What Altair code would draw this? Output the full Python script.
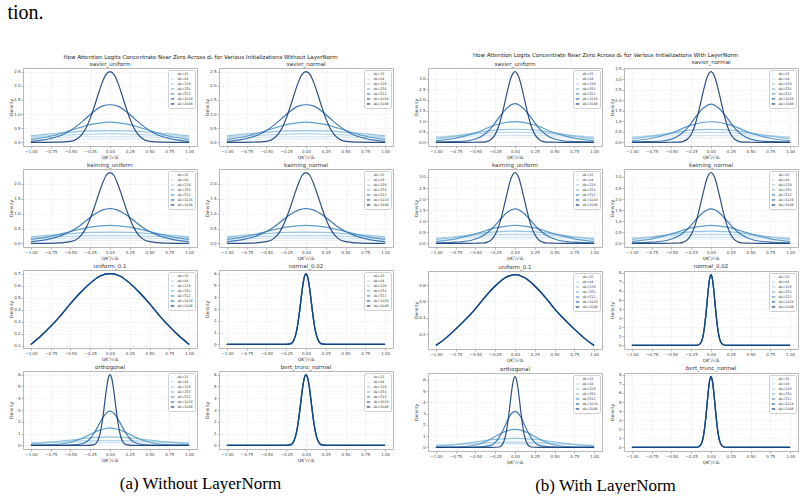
import altair as alt
import pandas as pd

FONT = "DejaVu Sans"
DKS = [32, 64, 128, 256, 512, 1024, 2048]
DK_LABELS = ["dk=32", "dk=64", "dk=128", "dk=256", "dk=512", "dk=1024", "dk=2048"]
COLORS = ["#e4eef9", "#cde0f1", "#b0d1e8", "#86bcdc", "#4f94c7", "#2b6cad", "#153d75"]

X_TICKS = [-1.0, -0.75, -0.5, -0.25, 0.0, 0.25, 0.5, 0.75, 1.0]

# x grids for the curves
X9 = [-1.0, -0.75, -0.5, -0.25, 0.0, 0.25, 0.5, 0.75, 1.0]
X17 = [-1.0, -0.875, -0.75, -0.625, -0.5, -0.375, -0.25, -0.125, 0.0,
       0.125, 0.25, 0.375, 0.5, 0.625, 0.75, 0.875, 1.0]
X_MID = [-1.0, -0.8, -0.6, -0.5, -0.4, -0.3, -0.2, -0.1, 0.0,
         0.1, 0.2, 0.3, 0.4, 0.5, 0.6, 0.8, 1.0]
X_FINE = [-1.0, -0.7, -0.5, -0.4, -0.35, -0.3, -0.25, -0.2, -0.15, -0.1, -0.05, 0.0,
          0.05, 0.1, 0.15, 0.2, 0.25, 0.3, 0.35, 0.4, 0.5, 0.7, 1.0]
X_ORTH = [-1.0, -0.7, -0.5, -0.4, -0.3, -0.25, -0.2, -0.16, -0.12, -0.08, -0.04, 0.0,
          0.04, 0.08, 0.12, 0.16, 0.2, 0.25, 0.3, 0.4, 0.5, 0.7, 1.0]
X_SPIKE = [-1.0, -0.3, -0.2, -0.16, -0.12, -0.1, -0.08, -0.06, -0.04, -0.02, 0.0,
           0.02, 0.04, 0.06, 0.08, 0.1, 0.12, 0.16, 0.2, 0.3, 1.0]

# ---------------- Without LayerNorm ----------------
LX_32 = [0.10, 0.10, 0.11, 0.11, 0.11, 0.11, 0.11, 0.10, 0.10]
LX_64 = [0.17, 0.18, 0.19, 0.20, 0.20, 0.20, 0.19, 0.18, 0.17]
LX_128 = [0.20, 0.24, 0.27, 0.29, 0.30, 0.29, 0.27, 0.24, 0.20]
LX_256 = [0.23, 0.30, 0.36, 0.41, 0.42, 0.41, 0.36, 0.30, 0.23]
LX_512 = [0.11, 0.22, 0.42, 0.63, 0.72, 0.63, 0.42, 0.22, 0.11]
LX_1024 = [0.04, 0.11, 0.27, 0.42, 0.62, 0.86, 1.10, 1.28, 1.33, 1.28, 1.10, 0.86, 0.62, 0.42, 0.27, 0.11, 0.04]
LX_2048 = [0.0, 0.01, 0.04, 0.16, 0.30, 0.53, 0.85, 1.25, 1.69, 2.10, 2.40, 2.50,
           2.40, 2.10, 1.69, 1.25, 0.85, 0.53, 0.30, 0.16, 0.04, 0.01, 0.0]

LK_32 = [0.09, 0.10, 0.10, 0.10, 0.10, 0.10, 0.10, 0.10, 0.09]
LK_64 = [0.15, 0.16, 0.17, 0.18, 0.18, 0.18, 0.17, 0.16, 0.15]
LK_128 = [0.19, 0.22, 0.24, 0.26, 0.26, 0.26, 0.24, 0.22, 0.19]
LK_256 = [0.22, 0.28, 0.33, 0.37, 0.38, 0.37, 0.33, 0.28, 0.22]
LK_512 = [0.14, 0.24, 0.40, 0.55, 0.61, 0.55, 0.40, 0.24, 0.14]
LK_1024 = [0.06, 0.13, 0.28, 0.40, 0.56, 0.77, 0.97, 1.12, 1.17, 1.12, 0.97, 0.77, 0.56, 0.40, 0.28, 0.13, 0.06]
LK_2048 = [0.0, 0.01, 0.06, 0.18, 0.32, 0.54, 0.84, 1.20, 1.60, 1.98, 2.28, 2.38,
           2.28, 1.98, 1.60, 1.20, 0.84, 0.54, 0.32, 0.18, 0.06, 0.01, 0.0]

LU = [0.11, 0.18, 0.26, 0.35, 0.45, 0.54, 0.62, 0.68, 0.70, 0.68, 0.62, 0.54, 0.45, 0.35, 0.26, 0.18, 0.11]

LS = [0.0, 0.0, 0.05, 0.28, 1.10, 1.88, 2.88, 4.00, 5.02, 5.74, 6.00,
      5.74, 5.02, 4.00, 2.88, 1.88, 1.10, 0.28, 0.05, 0.0, 0.0]

LO_32 = [0.17, 0.18, 0.19, 0.19, 0.19, 0.19, 0.19, 0.18, 0.17]
LO_64 = [0.24, 0.26, 0.28, 0.29, 0.29, 0.29, 0.28, 0.26, 0.24]
LO_128 = [0.22, 0.30, 0.37, 0.41, 0.42, 0.41, 0.37, 0.30, 0.22]
LO_256 = [0.13, 0.26, 0.45, 0.64, 0.72, 0.64, 0.45, 0.26, 0.13]
LO_512 = [0.02, 0.08, 0.27, 0.48, 0.78, 0.94, 1.10, 1.22, 1.31, 1.39, 1.45, 1.48,
          1.45, 1.39, 1.31, 1.22, 1.10, 0.94, 0.78, 0.48, 0.27, 0.08, 0.02]
LO_1024 = [0.0, 0.01, 0.03, 0.08, 0.29, 0.59, 1.05, 1.51, 2.01, 2.46, 2.78, 2.90,
           2.78, 2.46, 2.01, 1.51, 1.05, 0.59, 0.29, 0.08, 0.03, 0.01, 0.0]
LO_2048 = [0.0, 0.0, 0.07, 0.33, 1.18, 1.94, 2.91, 4.00, 5.00, 5.73, 6.00,
           5.73, 5.00, 4.00, 2.91, 1.94, 1.18, 0.33, 0.07, 0.0, 0.0]

# ---------------- With LayerNorm ----------------
RX_32 = [0.20, 0.21, 0.22, 0.22, 0.22, 0.22, 0.22, 0.21, 0.20]
RX_64 = [0.26, 0.29, 0.31, 0.32, 0.33, 0.32, 0.31, 0.29, 0.26]
RX_128 = [0.24, 0.32, 0.40, 0.46, 0.48, 0.46, 0.40, 0.32, 0.24]
RX_256 = [0.17, 0.30, 0.45, 0.58, 0.62, 0.58, 0.45, 0.30, 0.17]
RX_512 = [0.08, 0.20, 0.45, 0.82, 0.98, 0.82, 0.45, 0.20, 0.08]
RX_1024 = [0.02, 0.04, 0.08, 0.16, 0.34, 0.68, 1.18, 1.62, 1.82, 1.62, 1.18, 0.68, 0.34, 0.16, 0.08, 0.04, 0.02]
RX_2048 = [0.0, 0.0, 0.01, 0.02, 0.05, 0.15, 0.38, 0.83, 1.53, 2.35, 3.05, 3.33,
           3.05, 2.35, 1.53, 0.83, 0.38, 0.15, 0.05, 0.02, 0.01, 0.0, 0.0]
RXN_2048 = [0.0, 0.0, 0.01, 0.02, 0.05, 0.15, 0.39, 0.85, 1.56, 2.38, 3.08, 3.36,
            3.08, 2.38, 1.56, 0.85, 0.39, 0.15, 0.05, 0.02, 0.01, 0.0, 0.0]

RK_32 = [0.18, 0.19, 0.20, 0.20, 0.20, 0.20, 0.20, 0.19, 0.18]
RK_64 = [0.24, 0.26, 0.28, 0.29, 0.29, 0.29, 0.28, 0.26, 0.24]
RK_128 = [0.24, 0.30, 0.36, 0.40, 0.41, 0.40, 0.36, 0.30, 0.24]
RK_256 = [0.18, 0.29, 0.42, 0.52, 0.56, 0.52, 0.42, 0.29, 0.18]
RK_512 = [0.09, 0.21, 0.43, 0.70, 0.82, 0.70, 0.43, 0.21, 0.09]
RK_1024 = [0.02, 0.05, 0.11, 0.20, 0.36, 0.64, 1.03, 1.40, 1.56, 1.40, 1.03, 0.64, 0.36, 0.20, 0.11, 0.05, 0.02]
RK_2048 = [0.0, 0.0, 0.01, 0.02, 0.06, 0.16, 0.40, 0.84, 1.50, 2.26, 2.94, 3.20,
           2.94, 2.26, 1.50, 0.84, 0.40, 0.16, 0.06, 0.02, 0.01, 0.0, 0.0]

RU = [0.06, 0.15, 0.26, 0.38, 0.51, 0.66, 0.79, 0.89, 0.93, 0.89, 0.79, 0.66, 0.51, 0.38, 0.26, 0.15, 0.06]

RS = [0.0, 0.0, 0.0, 0.05, 0.44, 1.06, 2.17, 3.80, 5.66, 7.20, 7.80,
      7.20, 5.66, 3.80, 2.17, 1.06, 0.44, 0.05, 0.0, 0.0, 0.0]

RO_32 = [0.24, 0.25, 0.26, 0.27, 0.27, 0.27, 0.26, 0.25, 0.24]
RO_64 = [0.22, 0.28, 0.33, 0.36, 0.37, 0.36, 0.33, 0.28, 0.22]
RO_128 = [0.14, 0.25, 0.37, 0.45, 0.48, 0.45, 0.37, 0.25, 0.14]
RO_256 = [0.11, 0.26, 0.49, 0.71, 0.80, 0.71, 0.49, 0.26, 0.11]
RO_512 = [0.02, 0.06, 0.22, 0.44, 0.78, 0.97, 1.16, 1.30, 1.43, 1.52, 1.58, 1.60,
          1.58, 1.52, 1.43, 1.30, 1.16, 0.97, 0.78, 0.44, 0.22, 0.06, 0.02]
RO_1024 = [0.0, 0.01, 0.04, 0.08, 0.18, 0.45, 0.89, 1.41, 2.02, 2.61, 3.04, 3.20,
           3.04, 2.61, 2.02, 1.41, 0.89, 0.45, 0.18, 0.08, 0.04, 0.01, 0.0]
RO_2048 = [0.0, 0.0, 0.04, 0.25, 1.03, 1.79, 2.81, 4.00, 5.15, 5.99, 6.30,
           5.99, 5.15, 4.00, 2.81, 1.79, 1.03, 0.25, 0.04, 0.0, 0.0]


def same(xs, ys):
    return [(xs, ys)] * 7


L_XAV = [(X9, LX_32), (X9, LX_64), (X9, LX_128), (X9, LX_256), (X9, LX_512), (X_MID, LX_1024), (X_FINE, LX_2048)]
L_KAI = [(X9, LK_32), (X9, LK_64), (X9, LK_128), (X9, LK_256), (X9, LK_512), (X_MID, LK_1024), (X_FINE, LK_2048)]
L_ORT = [(X9, LO_32), (X9, LO_64), (X9, LO_128), (X9, LO_256), (X_ORTH, LO_512), (X_ORTH, LO_1024), (X_SPIKE, LO_2048)]
R_XAV = [(X9, RX_32), (X9, RX_64), (X9, RX_128), (X9, RX_256), (X9, RX_512), (X_MID, RX_1024), (X_FINE, RX_2048)]
R_XAVN = [(X9, RX_32), (X9, RX_64), (X9, RX_128), (X9, RX_256), (X9, RX_512), (X_MID, RX_1024), (X_FINE, RXN_2048)]
R_KAI = [(X9, RK_32), (X9, RK_64), (X9, RK_128), (X9, RK_256), (X9, RK_512), (X_MID, RK_1024), (X_FINE, RK_2048)]
R_ORT = [(X9, RO_32), (X9, RO_64), (X9, RO_128), (X9, RO_256), (X_ORTH, RO_512), (X_ORTH, RO_1024), (X_SPIKE, RO_2048)]

PANEL_W = 174
PANEL_H = 78


def tick_list(start, stop, step):
    out = []
    v = start
    while v <= stop + 1e-9:
        out.append(round(v, 4))
        v += step
    return out


def panel(title, curves, ystep, yfmt):
    rows = []
    for lab, (xs, ys) in zip(DK_LABELS, curves):
        for x, y in zip(xs, ys):
            rows.append({"x": x, "y": y, "dk": lab})
    df = pd.DataFrame(rows)
    lo, hi = df["y"].min(), df["y"].max()
    pad = (hi - lo) * 0.05
    dom = [lo - pad, hi + pad]
    yt = [t for t in tick_list(0.0, 10.0, ystep) if dom[0] <= t <= dom[1]]
    return alt.Chart(
        df,
        title=alt.TitleParams(title, fontSize=5.5, font=FONT, fontWeight="normal",
                              offset=1, color="#333333"),
    ).mark_line(interpolate="monotone", strokeWidth=1.2, opacity=0.9).encode(
        x=alt.X("x:Q", scale=alt.Scale(domain=[-1.1, 1.1], nice=False, zero=False),
                axis=alt.Axis(values=X_TICKS, format=".2f", title="QKᵀ/√dₖ")),
        y=alt.Y("y:Q", scale=alt.Scale(domain=dom, nice=False, zero=False),
                axis=alt.Axis(values=yt, format=yfmt, title="Density",
                              minExtent=9, maxExtent=9)),
        color=alt.Color("dk:N", scale=alt.Scale(domain=DK_LABELS, range=COLORS),
                        legend=alt.Legend(title=None, orient="top-right", offset=2,
                                          labelFontSize=3.3, labelFont=FONT, labelColor="#333333",
                                          symbolType="stroke", symbolSize=12, symbolStrokeWidth=1.3,
                                          labelOffset=2.5, rowPadding=0, padding=2,
                                          labelLimit=30, clipHeight=3.9,
                                          fillColor="white", strokeColor="#d0d0d0", cornerRadius=1.5)),
    ).properties(width=PANEL_W, height=PANEL_H)


def figure(panels, fig_title, caption):
    grid = alt.concat(*panels, columns=2, spacing={"row": 3, "column": 5},
                      title=alt.TitleParams(fig_title, fontSize=5.5, font=FONT, anchor="middle",
                                            fontWeight="normal", offset=1, color="#222222")
                      ).resolve_scale(x="independent", y="independent", color="independent"
                      ).resolve_legend(color="independent")
    return alt.vconcat(grid, title=alt.TitleParams(caption, orient="bottom", font="Liberation Serif",
                                                   fontSize=17, fontWeight="normal", offset=14,
                                                   color="black", anchor="middle")
                       ).resolve_scale(color="independent").resolve_legend(color="independent")


left_panels = [
    panel("xavier_uniform", L_XAV, 0.5, ".1f"),
    panel("xavier_normal", L_XAV, 0.5, ".1f"),
    panel("kaiming_uniform", L_KAI, 0.5, ".1f"),
    panel("kaiming_normal", L_KAI, 0.5, ".1f"),
    panel("uniform_0.1", same(X17, LU), 0.1, ".1f"),
    panel("normal_0.02", same(X_SPIKE, LS), 1, "d"),
    panel("orthogonal", L_ORT, 1, "d"),
    panel("bert_trunc_normal", same(X_SPIKE, LS), 1, "d"),
]
right_panels = [
    panel("xavier_uniform", R_XAV, 0.5, ".1f"),
    panel("xavier_normal", R_XAVN, 0.5, ".1f"),
    panel("kaiming_uniform", R_KAI, 0.5, ".1f"),
    panel("kaiming_normal", R_KAI, 0.5, ".1f"),
    panel("uniform_0.1", same(X17, RU), 0.2, ".1f"),
    panel("normal_0.02", same(X_SPIKE, RS), 1, "d"),
    panel("orthogonal", R_ORT, 1, "d"),
    panel("bert_trunc_normal", same(X_SPIKE, RS), 1, "d"),
]

fig_a = figure(left_panels,
               "How Attention Logits Concentrate Near Zero Across dₖ for Various Initializations Without LayerNorm",
               "(a) Without LayerNorm")
fig_b = figure(right_panels,
               "How Attention Logits Concentrate Near Zero Across dₖ for Various Initializations With LayerNorm",
               "(b) With LayerNorm")

chart = alt.hconcat(
    fig_a, fig_b, spacing=18,
    title=alt.TitleParams("tion.", anchor="start", font="Liberation Serif", fontSize=20,
                          fontWeight="normal", offset=30, color="black"),
).resolve_scale(color="independent").resolve_legend(color="independent").properties(
    padding={"left": 7, "top": 3, "right": 0, "bottom": 0}, background="white"
).configure_title(fontWeight="normal").configure_axis(
    labelFontSize=4, titleFontSize=4.5, labelFont=FONT, titleFont=FONT,
    tickSize=2, labelPadding=1, titlePadding=1, domain=False, grid=True,
    gridColor="#e0e0e0", gridDash=[1.5, 1.5], gridWidth=0.6,
    tickColor="#888888", tickWidth=0.6, labelColor="#444444", titleColor="#333333",
    titleFontWeight="normal",
).configure_view(stroke="#b8b8b8", strokeWidth=1)

chart.save("out.html", embed_options={"renderer": "svg", "actions": False})
